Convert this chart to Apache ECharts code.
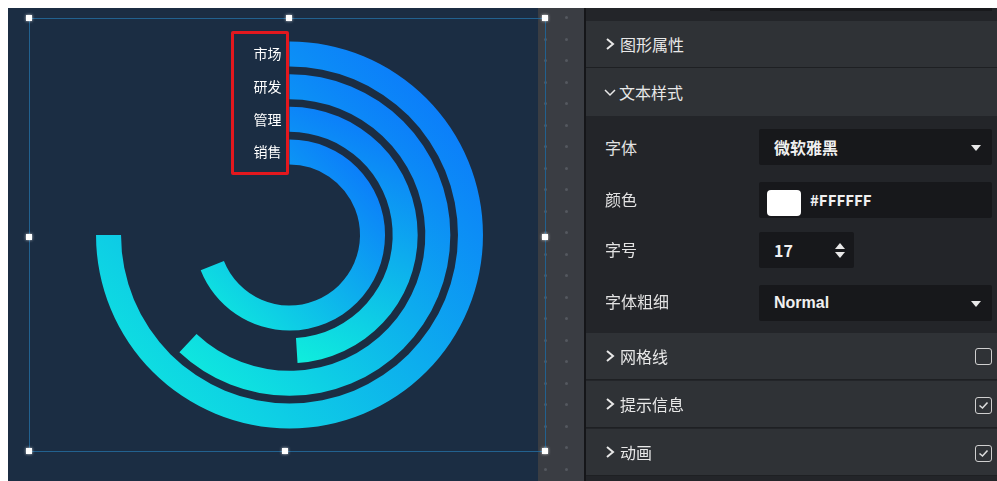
<!DOCTYPE html>
<html><head><meta charset="utf-8">
<script src="https://cdn.jsdelivr.net/npm/echarts@6/dist/echarts.min.js"></script>
<style>
html,body{margin:0;padding:0;}
body{width:997px;height:481px;background:#ffffff;overflow:hidden;position:relative;font-family:"Noto Sans CJK SC","Noto Sans",sans-serif;}
.abs{position:absolute;}
#chart{position:absolute;left:8px;top:8px;width:530px;height:473px;background:#1b2d43;}
#strip{position:absolute;left:538px;top:8px;width:47px;height:473px;background:#3a3d43;}
.dot{position:absolute;width:3px;height:3px;border-radius:50%;background:#54585f;}
.sel{position:absolute;background:#22618f;}
.handle{position:absolute;width:6px;height:6px;background:#fff;box-shadow:0 0 3px rgba(255,255,255,0.8);}
#panel{position:absolute;left:586px;top:8px;width:411px;height:473px;background:#232529;}
#pline{position:absolute;left:584px;top:8px;width:2px;height:473px;background:#151619;}
.hdr{position:absolute;left:586px;width:411px;height:47px;background:#2f3236;border-bottom:1px solid #1e2023;box-sizing:border-box;color:#e8e8e8;font-size:16px;}
.hdr .t{position:absolute;left:34px;top:50%;transform:translateY(-50%);line-height:20px;}
.hdr svg{position:absolute;left:19px;top:50%;transform:translateY(-50%);}
.lbl{position:absolute;left:605px;color:#e2e2e2;font-size:16px;line-height:20px;transform:translateY(-50%);}
.inp{position:absolute;left:759px;background:#17181b;border-radius:2px;height:36px;color:#f0f0f0;font-size:16px;font-weight:bold;}
.inp .v{position:absolute;left:15px;top:50%;transform:translateY(-50%);line-height:20px;}
.tri{position:absolute;width:0;height:0;border-left:5px solid transparent;border-right:5px solid transparent;}
.cb{position:absolute;left:975px;width:15px;height:15px;border:1.6px solid #cfcfcf;border-radius:3px;}
</style></head>
<body>
<div id="chart"></div>
<div id="strip"></div>
<div id="dots"></div>
<!-- selection box -->
<div class="sel" style="left:29px;top:18px;width:516px;height:1px;"></div>
<div class="sel" style="left:29px;top:451px;width:516px;height:1px;"></div>
<div class="sel" style="left:29px;top:18px;width:1px;height:434px;"></div>
<div class="sel" style="left:545px;top:18px;width:1px;height:434px;"></div>
<div class="handle" style="left:26px;top:15px;"></div>
<div class="handle" style="left:286px;top:15px;"></div>
<div class="handle" style="left:542px;top:15px;"></div>
<div class="handle" style="left:26px;top:234px;"></div>
<div class="handle" style="left:542px;top:234px;"></div>
<div class="handle" style="left:26px;top:448px;"></div>
<div class="handle" style="left:282px;top:448px;"></div>
<div class="handle" style="left:542px;top:448px;"></div>
<!-- red annotation box -->
<div class="abs" style="left:231px;top:31px;width:52px;height:138px;border:3px solid #e3181e;border-radius:2px;"></div>

<!-- panel -->
<div id="pline"></div>
<div id="panel"></div>
<div class="abs" style="left:586px;top:8px;width:411px;height:13px;background:#232529;"></div>
<div class="abs" style="left:710px;top:8px;width:282px;height:3px;background:#18191c;"></div>

<div class="hdr" style="top:21px;"><svg width="10" height="12" viewBox="0 0 10 12"><polyline points="2,1 8,6 2,11" fill="none" stroke="#e8e8e8" stroke-width="2"/></svg><span class="t">图形属性</span></div>
<div class="hdr" style="top:68px;border-bottom:none;height:48px;"><svg width="12" height="10" viewBox="0 0 12 10" style="left:18px;"><polyline points="1,3 6,8 11,3" fill="none" stroke="#e8e8e8" stroke-width="1.5"/></svg><span class="t" style="left:33px;">文本样式</span></div>

<div class="lbl" style="top:147px;">字体</div>
<div class="lbl" style="top:199px;">颜色</div>
<div class="lbl" style="top:249px;">字号</div>
<div class="lbl" style="top:301px;">字体粗细</div>

<div class="inp" style="top:129px;width:233px;"><span class="v">微软雅黑</span><div class="tri" style="left:212px;top:16px;border-top:6px solid #e8e8e8;"></div></div>
<div class="inp" style="top:182px;width:233px;"><div class="abs" style="left:8px;top:8px;width:34px;height:26px;background:#fff;border-radius:4px;"></div><span class="v" style="left:51px;font-size:15px;">#FFFFFF</span></div>
<div class="inp" style="top:232px;width:95px;"><span class="v">17</span><div class="tri" style="left:76px;top:11px;border-bottom:6px solid #e8e8e8;"></div><div class="tri" style="left:76px;top:20px;border-top:6px solid #e8e8e8;"></div></div>
<div class="inp" style="top:285px;width:233px;"><span class="v" style="font-family:'Liberation Sans',Arial,sans-serif;">Normal</span><div class="tri" style="left:212px;top:16px;border-top:6px solid #e8e8e8;"></div></div>

<div class="hdr" style="top:333px;"><svg width="10" height="12" viewBox="0 0 10 12"><polyline points="2,1 8,6 2,11" fill="none" stroke="#e8e8e8" stroke-width="2"/></svg><span class="t">网格线</span></div>
<div class="hdr" style="top:381px;"><svg width="10" height="12" viewBox="0 0 10 12"><polyline points="2,1 8,6 2,11" fill="none" stroke="#e8e8e8" stroke-width="2"/></svg><span class="t">提示信息</span></div>
<div class="hdr" style="top:429px;"><svg width="10" height="12" viewBox="0 0 10 12"><polyline points="2,1 8,6 2,11" fill="none" stroke="#e8e8e8" stroke-width="2"/></svg><span class="t">动画</span></div>

<div class="cb" style="top:348px;"></div>
<div class="cb" style="top:397px;"><svg width="15" height="15" viewBox="0 0 15 15" style="position:absolute;left:0;top:0;"><polyline points="3.5,7.5 6.5,10 11.5,4.5" fill="none" stroke="#dcdcdc" stroke-width="1.6"/></svg></div>
<div class="cb" style="top:445px;"><svg width="15" height="15" viewBox="0 0 15 15" style="position:absolute;left:0;top:0;"><polyline points="3.5,7.5 6.5,10 11.5,4.5" fill="none" stroke="#dcdcdc" stroke-width="1.6"/></svg></div>

<script>
// ---- chart data ----
const categories = ['市场', '研发', '管理', '销售'];
const values = [75, 62, 49, 69];
const angleMax = 100;

// dot grid in the gutter strip
(function(){
  const host = document.getElementById('dots');
  let html = '';
  for (let y = 17; y < 481; y += 21.5) {
    html += '<div class="dot" style="left:565px;top:' + (y - 1) + 'px"></div>';
    html += '<div class="dot" style="left:544px;top:' + (y - 1) + 'px"></div>';
  }
  host.innerHTML = html;
})();

const chart = echarts.init(document.getElementById('chart'));
chart.setOption({
  animation: false,
  backgroundColor: '#1b2d43',
  polar: { center: [281.5, 227], radius: [66.7, 197.3] },
  angleAxis: {
    type: 'value', min: 0, max: angleMax, startAngle: 90, clockwise: true,
    show: false
  },
  radiusAxis: {
    type: 'category', data: categories, inverse: true,
    axisLine: { show: false }, axisTick: { show: false }, splitLine: { show: false },
    axisLabel: { color: '#ffffff', fontSize: 14, margin: 8, interval: 0, hideOverlap: false, fontFamily: 'Noto Sans CJK SC' }
  },
  series: [{
    type: 'bar', coordinateSystem: 'polar', data: values, barWidth: 25,
    itemStyle: {
      color: new echarts.graphic.LinearGradient(1, 0, 0, 1, [
        { offset: 0, color: '#0b6bff' },
        { offset: 1, color: '#0ff0dc' }
      ])
    }
  }]
});
</script>
</body></html>
